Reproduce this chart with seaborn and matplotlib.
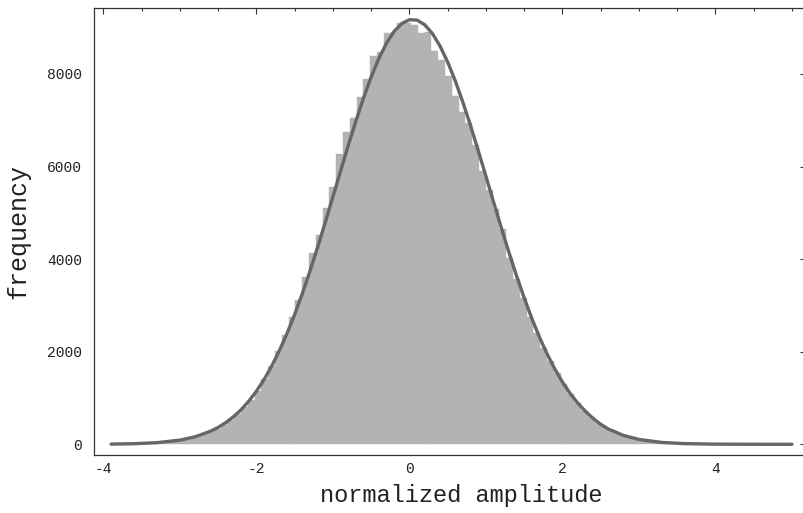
import numpy as np
import pandas as pd
import matplotlib
matplotlib.use("Agg")
import matplotlib.pyplot as plt
from matplotlib.ticker import MultipleLocator
import seaborn as sns

# ---- data ----
bin_start = -3.89
bin_width = 0.0889
counts = [
    5, 7, 9, 13, 17, 24, 32, 43, 57, 75, 99, 129, 166, 212, 270, 340, 425, 526,
    650, 795, 960, 1160, 1420,
    1700, 2020, 2370, 2750, 3117, 3620, 4126, 4521,
    5098, 5565, 6265, 6753, 7056, 7509, 7892, 8388, 8481, 8879, 8914, 9095,
    9108, 9058, 8879, 8900, 8503, 8302, 7956, 7531, 7185, 6934, 6466, 5911,
    5494, 5083, 4645,
    4020, 3570, 3150, 2760, 2400, 2080, 1790, 1530, 1300, 1085, 890, 720, 580,
    465, 370, 290, 225, 172, 132, 100, 76, 57, 42, 31, 23, 17, 12, 9, 6, 5, 4,
    3, 2, 2, 1, 1, 1, 0, 0, 0, 0, 1,
]

# fitted curve, points
curve_x = [-3.9, -3.6, -3.3, -3.0, -2.8, -2.6, -2.5, -2.4, -2.3, -2.2, -2.1,
           -2.0, -1.9, -1.8, -1.7, -1.6, -1.5, -1.4, -1.3, -1.2, -1.1, -1.0,
           -0.9, -0.8, -0.7, -0.6, -0.5, -0.4, -0.3, -0.2, -0.1, 0.0, 0.1,
           0.2, 0.3, 0.4, 0.5, 0.6, 0.7, 0.8, 0.9, 1.0, 1.1, 1.2, 1.3, 1.4,
           1.5, 1.6, 1.7, 1.8, 1.9, 2.0, 2.1, 2.2, 2.3, 2.4, 2.5, 2.6, 2.8,
           3.0, 3.3, 3.6, 4.0, 4.5, 5.0]
curve_y = [4, 12, 35, 90, 163, 282, 365, 468, 594, 747, 930,
           1146, 1398, 1689, 2021, 2392, 2804, 3255, 3741, 4256, 4794, 5346,
           5902, 6451, 6981, 7480, 7934, 8333, 8664, 8919, 9090, 9173, 9163,
           9063, 8875, 8604, 8258, 7848, 7383, 6878, 6342, 5791, 5234, 4684,
           4150, 3641, 3163, 2719, 2314, 1951, 1628, 1345, 1100, 891, 714,
           560, 432, 330, 190, 105, 40, 14, 3, 0.3, 0]

x_ticks = [-4, -2, 0, 2, 4]
y_ticks = [0, 2000, 4000, 6000, 8000]
x_label = "normalized amplitude"
y_label = "frequency"

# ---- plotting ----
sns.set_theme(style="white")
plt.rcParams["font.family"] = ["Liberation Mono", "DejaVu Sans Mono"]
plt.rcParams["axes.unicode_minus"] = False

n_bins = len(counts)
edges = [bin_start + bin_width * i for i in range(n_bins + 1)]
centers = [(edges[i] + edges[i + 1]) / 2 for i in range(n_bins)]
df_hist = pd.DataFrame({"amp": centers, "n": counts})
df_curve = pd.DataFrame({"x": curve_x, "y": curve_y})

fig = plt.figure(figsize=(8.04, 5.13), dpi=100)
ax = fig.add_axes([0.1169, 0.1131, 0.8856, 0.8713])

bar_color = "#b3b3b3"
sns.histplot(data=df_hist, x="amp", weights="n", bins=edges, color=bar_color,
             alpha=1, edgecolor=bar_color, linewidth=0.3, ax=ax)
sns.lineplot(data=df_curve, x="x", y="y", color="#666666", linewidth=2.4, ax=ax)

ax.set_xlim(-4.123, 5.184)
ax.set_ylim(-231, 9425)
ax.set_xticks(x_ticks)
ax.set_yticks(y_ticks)
ax.xaxis.set_minor_locator(MultipleLocator(0.5))
ax.yaxis.set_minor_locator(MultipleLocator(500))
ax.tick_params(which="both", direction="in", top=True, right=True,
               colors="#333333", labelcolor="#222222", width=0.8)
ax.tick_params(which="major", length=4.5, labelsize=10.5)
ax.tick_params(axis="y", which="major", pad=8.5)
ax.tick_params(axis="x", which="major", pad=5)
ax.tick_params(which="minor", length=2.5)
for s in ax.spines.values():
    s.set_color("#333333")
    s.set_linewidth(0.9)
    s.set_visible(True)

ax.set_xlabel(x_label, fontsize=17, color="#222222", labelpad=6)
ax.xaxis.label.set_x(0.5155)
ax.set_ylabel(y_label, fontsize=18, color="#222222", labelpad=12)

fig.savefig("out.png", dpi=100)
